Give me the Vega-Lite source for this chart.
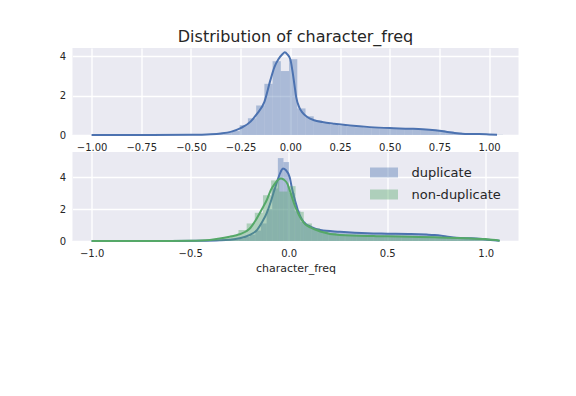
{
  "$schema": "https://vega.github.io/schema/vega-lite/v6.json",
  "background": "white",
  "padding": {"left": 58.5, "top": 29, "right": 5, "bottom": 5},
  "spacing": 17,
  "bounds": "flush",
  "config": {
    "view": {"fill": "#EAEAF2", "stroke": null},
    "font": "DejaVu Sans",
    "axis": {"labelFont": "DejaVu Sans", "labelFontSize": 10, "labelColor": "#262626", "ticks": false, "domain": false, "gridColor": "#FFFFFF", "gridWidth": 1.3, "gridOpacity": 1, "labelPadding": 7, "titleFont": "DejaVu Sans", "titleFontSize": 11, "titleFontWeight": "normal", "titleColor": "#262626"}
  },
  "datasets": {
    "top_hist": [
      {"start": -0.5032, "end": -0.4618, "density": 0.01},
      {"start": -0.4618, "end": -0.4204, "density": 0.015},
      {"start": -0.4204, "end": -0.379, "density": 0.03},
      {"start": -0.379, "end": -0.3376, "density": 0.05},
      {"start": -0.3376, "end": -0.2962, "density": 0.1},
      {"start": -0.2962, "end": -0.2548, "density": 0.2},
      {"start": -0.2548, "end": -0.2134, "density": 0.5},
      {"start": -0.2134, "end": -0.172, "density": 0.85},
      {"start": -0.172, "end": -0.1306, "density": 1.5},
      {"start": -0.1306, "end": -0.0892, "density": 2.6},
      {"start": -0.0892, "end": -0.0478, "density": 3.75},
      {"start": -0.0478, "end": -0.0064, "density": 3.25},
      {"start": -0.0064, "end": 0.035, "density": 3.85},
      {"start": 0.035, "end": 0.0764, "density": 1.35},
      {"start": 0.0764, "end": 0.1178, "density": 0.95},
      {"start": 0.1178, "end": 0.1592, "density": 0.75},
      {"start": 0.1592, "end": 0.2006, "density": 0.6},
      {"start": 0.2006, "end": 0.242, "density": 0.52},
      {"start": 0.242, "end": 0.2834, "density": 0.47},
      {"start": 0.2834, "end": 0.3248, "density": 0.43},
      {"start": 0.3248, "end": 0.3662, "density": 0.4},
      {"start": 0.3662, "end": 0.4076, "density": 0.38},
      {"start": 0.4076, "end": 0.449, "density": 0.36},
      {"start": 0.449, "end": 0.4904, "density": 0.35},
      {"start": 0.4904, "end": 0.5318, "density": 0.34},
      {"start": 0.5318, "end": 0.5732, "density": 0.33},
      {"start": 0.5732, "end": 0.6146, "density": 0.32},
      {"start": 0.6146, "end": 0.656, "density": 0.31},
      {"start": 0.656, "end": 0.6974, "density": 0.29},
      {"start": 0.6974, "end": 0.7388, "density": 0.27},
      {"start": 0.7388, "end": 0.7802, "density": 0.24},
      {"start": 0.7802, "end": 0.8216, "density": 0.18},
      {"start": 0.8216, "end": 0.863, "density": 0.12},
      {"start": 0.863, "end": 0.9044, "density": 0.08},
      {"start": 0.9044, "end": 0.9458, "density": 0.07},
      {"start": 0.9458, "end": 0.9872, "density": 0.05},
      {"start": 0.9872, "end": 1.0286, "density": 0.03},
      {"start": 1.0286, "end": 1.07, "density": 0.01}
    ],
    "top_kde": [
      {"x": -1.0, "y": 0.0}, {"x": -0.7, "y": 0.0}, {"x": -0.5, "y": 0.01}, {"x": -0.4, "y": 0.04},
      {"x": -0.35, "y": 0.08}, {"x": -0.3, "y": 0.16}, {"x": -0.25, "y": 0.35}, {"x": -0.2, "y": 0.68},
      {"x": -0.17, "y": 1.05}, {"x": -0.13, "y": 1.7}, {"x": -0.1, "y": 2.8}, {"x": -0.08, "y": 3.45},
      {"x": -0.06, "y": 3.85}, {"x": -0.04, "y": 4.1}, {"x": -0.028, "y": 4.2}, {"x": -0.015, "y": 4.1},
      {"x": 0.0, "y": 3.85}, {"x": 0.01, "y": 3.3}, {"x": 0.02, "y": 2.6}, {"x": 0.03, "y": 1.9},
      {"x": 0.045, "y": 1.4}, {"x": 0.06, "y": 1.15}, {"x": 0.087, "y": 0.9}, {"x": 0.12, "y": 0.75},
      {"x": 0.16, "y": 0.66}, {"x": 0.22, "y": 0.57}, {"x": 0.3, "y": 0.48}, {"x": 0.4, "y": 0.4},
      {"x": 0.5, "y": 0.35}, {"x": 0.6, "y": 0.32}, {"x": 0.7, "y": 0.27}, {"x": 0.75, "y": 0.22},
      {"x": 0.8, "y": 0.14}, {"x": 0.85, "y": 0.08}, {"x": 0.9, "y": 0.05}, {"x": 0.95, "y": 0.05},
      {"x": 1.0, "y": 0.03}, {"x": 1.04, "y": 0.01}
    ],
    "dup_hist": [
      {"series": "duplicate", "start": -0.454, "end": -0.4255, "density": 0.01},
      {"series": "duplicate", "start": -0.4255, "end": -0.397, "density": 0.01},
      {"series": "duplicate", "start": -0.397, "end": -0.3685, "density": 0.02},
      {"series": "duplicate", "start": -0.3685, "end": -0.34, "density": 0.03},
      {"series": "duplicate", "start": -0.34, "end": -0.3115, "density": 0.04},
      {"series": "duplicate", "start": -0.3115, "end": -0.283, "density": 0.06},
      {"series": "duplicate", "start": -0.283, "end": -0.2545, "density": 0.1},
      {"series": "duplicate", "start": -0.2545, "end": -0.226, "density": 0.15},
      {"series": "duplicate", "start": -0.226, "end": -0.1975, "density": 0.25},
      {"series": "duplicate", "start": -0.1975, "end": -0.169, "density": 0.4},
      {"series": "duplicate", "start": -0.169, "end": -0.1405, "density": 0.65},
      {"series": "duplicate", "start": -0.1405, "end": -0.112, "density": 1.1},
      {"series": "duplicate", "start": -0.112, "end": -0.0835, "density": 2.0},
      {"series": "duplicate", "start": -0.0835, "end": -0.055, "density": 3.3},
      {"series": "duplicate", "start": -0.055, "end": -0.0265, "density": 5.2},
      {"series": "duplicate", "start": -0.0265, "end": 0.002, "density": 4.95},
      {"series": "duplicate", "start": 0.002, "end": 0.0305, "density": 3.0},
      {"series": "duplicate", "start": 0.0305, "end": 0.059, "density": 1.9},
      {"series": "duplicate", "start": 0.059, "end": 0.0875, "density": 1.2},
      {"series": "duplicate", "start": 0.0875, "end": 0.116, "density": 0.95},
      {"series": "duplicate", "start": 0.116, "end": 0.1445, "density": 0.8},
      {"series": "duplicate", "start": 0.1445, "end": 0.173, "density": 0.72},
      {"series": "duplicate", "start": 0.173, "end": 0.2015, "density": 0.66},
      {"series": "duplicate", "start": 0.2015, "end": 0.23, "density": 0.62},
      {"series": "duplicate", "start": 0.23, "end": 0.2585, "density": 0.6},
      {"series": "duplicate", "start": 0.2585, "end": 0.287, "density": 0.58},
      {"series": "duplicate", "start": 0.287, "end": 0.3155, "density": 0.55},
      {"series": "duplicate", "start": 0.3155, "end": 0.344, "density": 0.53},
      {"series": "duplicate", "start": 0.344, "end": 0.3725, "density": 0.51},
      {"series": "duplicate", "start": 0.3725, "end": 0.401, "density": 0.5},
      {"series": "duplicate", "start": 0.401, "end": 0.4295, "density": 0.48},
      {"series": "duplicate", "start": 0.4295, "end": 0.458, "density": 0.47},
      {"series": "duplicate", "start": 0.458, "end": 0.4865, "density": 0.46},
      {"series": "duplicate", "start": 0.4865, "end": 0.515, "density": 0.45},
      {"series": "duplicate", "start": 0.515, "end": 0.5435, "density": 0.45},
      {"series": "duplicate", "start": 0.5435, "end": 0.572, "density": 0.44},
      {"series": "duplicate", "start": 0.572, "end": 0.6005, "density": 0.44},
      {"series": "duplicate", "start": 0.6005, "end": 0.629, "density": 0.43},
      {"series": "duplicate", "start": 0.629, "end": 0.6575, "density": 0.42},
      {"series": "duplicate", "start": 0.6575, "end": 0.686, "density": 0.41},
      {"series": "duplicate", "start": 0.686, "end": 0.7145, "density": 0.4},
      {"series": "duplicate", "start": 0.7145, "end": 0.743, "density": 0.38},
      {"series": "duplicate", "start": 0.743, "end": 0.7715, "density": 0.32},
      {"series": "duplicate", "start": 0.7715, "end": 0.8, "density": 0.25},
      {"series": "duplicate", "start": 0.8, "end": 0.8285, "density": 0.2},
      {"series": "duplicate", "start": 0.8285, "end": 0.857, "density": 0.15},
      {"series": "duplicate", "start": 0.857, "end": 0.8855, "density": 0.13},
      {"series": "duplicate", "start": 0.8855, "end": 0.914, "density": 0.14},
      {"series": "duplicate", "start": 0.914, "end": 0.9425, "density": 0.15},
      {"series": "duplicate", "start": 0.9425, "end": 0.971, "density": 0.13},
      {"series": "duplicate", "start": 0.971, "end": 0.9995, "density": 0.1},
      {"series": "duplicate", "start": 0.9995, "end": 1.028, "density": 0.06},
      {"series": "duplicate", "start": 1.028, "end": 1.0565, "density": 0.03}
    ],
    "dup_kde": [
      {"x": -1.0, "y": 0.0}, {"x": -0.6, "y": 0.0}, {"x": -0.45, "y": 0.01}, {"x": -0.35, "y": 0.04},
      {"x": -0.3, "y": 0.08}, {"x": -0.25, "y": 0.17}, {"x": -0.2, "y": 0.37}, {"x": -0.16, "y": 0.7},
      {"x": -0.134, "y": 1.2}, {"x": -0.11, "y": 1.8}, {"x": -0.091, "y": 2.46}, {"x": -0.07, "y": 3.3},
      {"x": -0.057, "y": 3.8}, {"x": -0.04, "y": 4.35}, {"x": -0.029, "y": 4.55}, {"x": -0.015, "y": 4.45},
      {"x": 0.005, "y": 4.0}, {"x": 0.015, "y": 3.4}, {"x": 0.027, "y": 2.77}, {"x": 0.04, "y": 2.2},
      {"x": 0.052, "y": 1.73}, {"x": 0.065, "y": 1.4}, {"x": 0.083, "y": 1.1}, {"x": 0.11, "y": 0.9},
      {"x": 0.16, "y": 0.69}, {"x": 0.26, "y": 0.58}, {"x": 0.4, "y": 0.48}, {"x": 0.5, "y": 0.46},
      {"x": 0.62, "y": 0.44}, {"x": 0.7, "y": 0.4}, {"x": 0.74, "y": 0.37}, {"x": 0.8, "y": 0.28},
      {"x": 0.85, "y": 0.2}, {"x": 0.91, "y": 0.17}, {"x": 0.95, "y": 0.16}, {"x": 1.0, "y": 0.09},
      {"x": 1.04, "y": 0.04}, {"x": 1.07, "y": 0.01}
    ],
    "non_hist": [
      {"series": "non-duplicate", "start": -0.5032, "end": -0.4618, "density": 0.02},
      {"series": "non-duplicate", "start": -0.4618, "end": -0.4204, "density": 0.03},
      {"series": "non-duplicate", "start": -0.4204, "end": -0.379, "density": 0.05},
      {"series": "non-duplicate", "start": -0.379, "end": -0.3376, "density": 0.1},
      {"series": "non-duplicate", "start": -0.3376, "end": -0.2962, "density": 0.2},
      {"series": "non-duplicate", "start": -0.2962, "end": -0.2548, "density": 0.35},
      {"series": "non-duplicate", "start": -0.2548, "end": -0.2134, "density": 0.69},
      {"series": "non-duplicate", "start": -0.2134, "end": -0.172, "density": 1.1},
      {"series": "non-duplicate", "start": -0.172, "end": -0.1306, "density": 1.77},
      {"series": "non-duplicate", "start": -0.1306, "end": -0.0892, "density": 2.87},
      {"series": "non-duplicate", "start": -0.0892, "end": -0.0478, "density": 3.8},
      {"series": "non-duplicate", "start": -0.0478, "end": -0.0064, "density": 3.1},
      {"series": "non-duplicate", "start": -0.0064, "end": 0.035, "density": 3.44},
      {"series": "non-duplicate", "start": 0.035, "end": 0.0764, "density": 1.83},
      {"series": "non-duplicate", "start": 0.0764, "end": 0.1178, "density": 1.1},
      {"series": "non-duplicate", "start": 0.1178, "end": 0.1592, "density": 0.8},
      {"series": "non-duplicate", "start": 0.1592, "end": 0.2006, "density": 0.6},
      {"series": "non-duplicate", "start": 0.2006, "end": 0.242, "density": 0.5},
      {"series": "non-duplicate", "start": 0.242, "end": 0.2834, "density": 0.42},
      {"series": "non-duplicate", "start": 0.2834, "end": 0.3248, "density": 0.38},
      {"series": "non-duplicate", "start": 0.3248, "end": 0.3662, "density": 0.35},
      {"series": "non-duplicate", "start": 0.3662, "end": 0.4076, "density": 0.33},
      {"series": "non-duplicate", "start": 0.4076, "end": 0.449, "density": 0.32},
      {"series": "non-duplicate", "start": 0.449, "end": 0.4904, "density": 0.31},
      {"series": "non-duplicate", "start": 0.4904, "end": 0.5318, "density": 0.3},
      {"series": "non-duplicate", "start": 0.5318, "end": 0.5732, "density": 0.3},
      {"series": "non-duplicate", "start": 0.5732, "end": 0.6146, "density": 0.29},
      {"series": "non-duplicate", "start": 0.6146, "end": 0.656, "density": 0.28},
      {"series": "non-duplicate", "start": 0.656, "end": 0.6974, "density": 0.27},
      {"series": "non-duplicate", "start": 0.6974, "end": 0.7388, "density": 0.25},
      {"series": "non-duplicate", "start": 0.7388, "end": 0.7802, "density": 0.23},
      {"series": "non-duplicate", "start": 0.7802, "end": 0.8216, "density": 0.2},
      {"series": "non-duplicate", "start": 0.8216, "end": 0.863, "density": 0.18},
      {"series": "non-duplicate", "start": 0.863, "end": 0.9044, "density": 0.16},
      {"series": "non-duplicate", "start": 0.9044, "end": 0.9458, "density": 0.15},
      {"series": "non-duplicate", "start": 0.9458, "end": 0.9872, "density": 0.13},
      {"series": "non-duplicate", "start": 0.9872, "end": 1.0286, "density": 0.1},
      {"series": "non-duplicate", "start": 1.0286, "end": 1.07, "density": 0.06}
    ],
    "non_kde": [
      {"x": -1.0, "y": 0.0}, {"x": -0.6, "y": 0.0}, {"x": -0.5, "y": 0.01}, {"x": -0.4, "y": 0.07},
      {"x": -0.35, "y": 0.15}, {"x": -0.3, "y": 0.27}, {"x": -0.25, "y": 0.42}, {"x": -0.2, "y": 0.75},
      {"x": -0.17, "y": 1.25}, {"x": -0.134, "y": 2.04}, {"x": -0.11, "y": 2.6}, {"x": -0.091, "y": 3.19},
      {"x": -0.07, "y": 3.6}, {"x": -0.057, "y": 3.8}, {"x": -0.04, "y": 3.92}, {"x": -0.025, "y": 3.85},
      {"x": -0.007, "y": 3.6}, {"x": 0.01, "y": 3.0}, {"x": 0.027, "y": 2.35}, {"x": 0.04, "y": 1.95},
      {"x": 0.052, "y": 1.62}, {"x": 0.065, "y": 1.35}, {"x": 0.083, "y": 1.06}, {"x": 0.11, "y": 0.85},
      {"x": 0.16, "y": 0.6}, {"x": 0.26, "y": 0.37}, {"x": 0.4, "y": 0.31}, {"x": 0.5, "y": 0.3},
      {"x": 0.62, "y": 0.27}, {"x": 0.74, "y": 0.23}, {"x": 0.8, "y": 0.2}, {"x": 0.91, "y": 0.17},
      {"x": 1.0, "y": 0.12}, {"x": 1.05, "y": 0.06}, {"x": 1.07, "y": 0.02}
    ]
  },
  "vconcat": [
    {
      "width": 446,
      "height": 87,
      "title": {"text": "Distribution of character_freq", "fontSize": 16, "font": "DejaVu Sans", "fontWeight": "normal", "color": "#262626", "anchor": "middle", "frame": "group", "offset": 3},
      "layer": [
        {
          "data": {"name": "top_hist"},
          "mark": {"type": "bar", "color": "#4C72B0", "opacity": 0.4, "strokeWidth": 0},
          "encoding": {
            "x": {"field": "start", "type": "quantitative", "scale": {"domain": [-1.096, 1.148], "nice": false, "zero": false}, "axis": {"values": [-1, -0.75, -0.5, -0.25, 0, 0.25, 0.5, 0.75, 1], "format": ".2f", "title": null}},
            "x2": {"field": "end"},
            "y": {"field": "density", "type": "quantitative", "scale": {"domain": [0, 4.42], "nice": false}, "axis": {"values": [0, 2, 4], "format": "d", "title": null}},
            "y2": {"datum": 0}
          }
        },
        {
          "data": {"name": "top_kde"},
          "mark": {"type": "line", "color": "#4C72B0", "strokeWidth": 2, "interpolate": "monotone"},
          "encoding": {
            "x": {"field": "x", "type": "quantitative"},
            "y": {"field": "y", "type": "quantitative"}
          }
        }
      ]
    },
    {
      "width": 446,
      "height": 89,
      "layer": [
        {
          "data": {"name": "dup_hist"},
          "mark": {"type": "bar", "opacity": 0.4, "strokeWidth": 0},
          "encoding": {
            "x": {"field": "start", "type": "quantitative", "scale": {"domain": [-1.097, 1.166], "nice": false, "zero": false}, "axis": {"values": [-1, -0.5, 0, 0.5, 1], "format": ".1f", "title": "character_freq", "titlePadding": 4}},
            "x2": {"field": "end"},
            "y": {"field": "density", "type": "quantitative", "scale": {"domain": [0, 5.58], "nice": false}, "axis": {"values": [0, 2, 4], "format": "d", "title": null}},
            "y2": {"datum": 0},
            "color": {"field": "series", "type": "nominal", "scale": {"domain": ["duplicate", "non-duplicate"], "range": ["#4C72B0", "#55A868"]},
              "legend": {"title": null, "orient": "none", "legendX": 305, "legendY": 118, "symbolType": "M-2.8,-1H2.8V1H-2.8Z", "symbolSize": 100, "symbolOpacity": 0.4, "symbolStrokeWidth": 0, "labelFontSize": 13, "labelFont": "DejaVu Sans", "labelColor": "#262626", "labelOffset": 21, "rowPadding": 8}}
          }
        },
        {
          "data": {"name": "dup_kde"},
          "mark": {"type": "line", "color": "#4C72B0", "strokeWidth": 2, "interpolate": "monotone"},
          "encoding": {
            "x": {"field": "x", "type": "quantitative"},
            "y": {"field": "y", "type": "quantitative"}
          }
        },
        {
          "data": {"name": "non_hist"},
          "mark": {"type": "bar", "opacity": 0.4, "strokeWidth": 0},
          "encoding": {
            "x": {"field": "start", "type": "quantitative"},
            "x2": {"field": "end"},
            "y": {"field": "density", "type": "quantitative"},
            "y2": {"datum": 0},
            "color": {"field": "series", "type": "nominal"}
          }
        },
        {
          "data": {"name": "non_kde"},
          "mark": {"type": "line", "color": "#55A868", "strokeWidth": 2, "interpolate": "monotone"},
          "encoding": {
            "x": {"field": "x", "type": "quantitative"},
            "y": {"field": "y", "type": "quantitative"}
          }
        }
      ]
    }
  ]
}
